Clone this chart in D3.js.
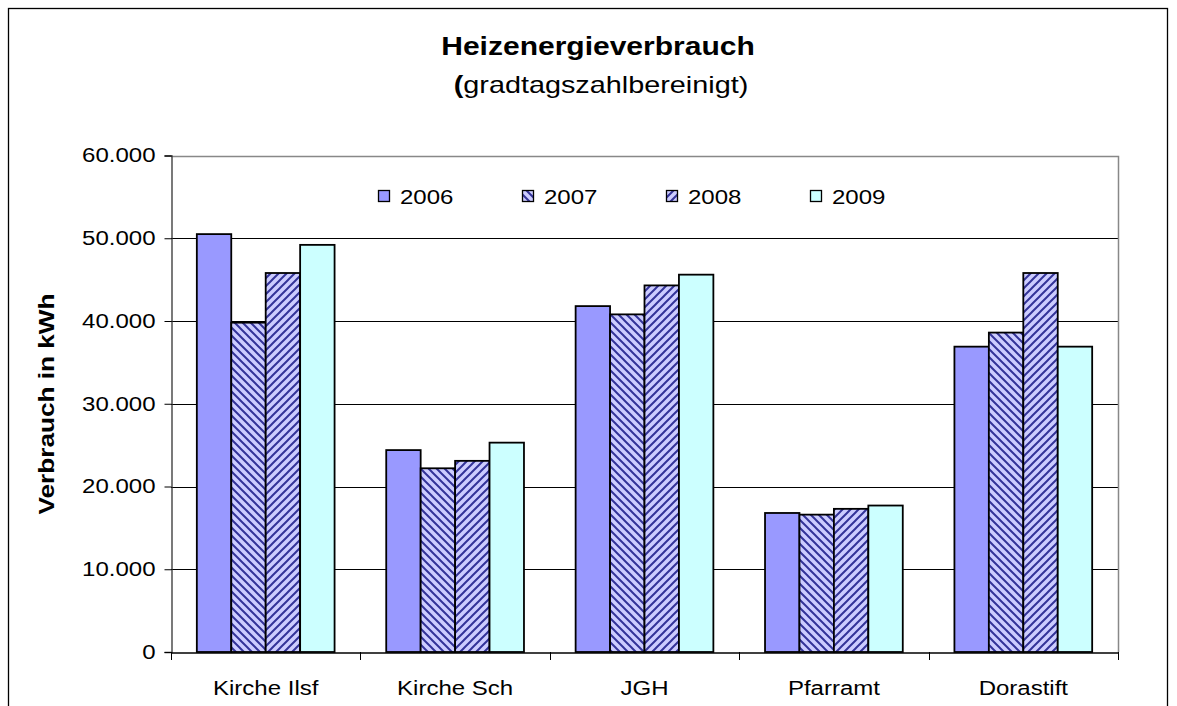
<!DOCTYPE html>
<html><head><meta charset="utf-8">
<script src="https://cdn.jsdelivr.net/npm/d3@7/dist/d3.min.js"></script>
<style>body{margin:0;background:#fff}svg{display:block;font-family:"Liberation Sans",Arial,sans-serif}</style>
</head><body>
<svg id="c" width="1177" height="706"></svg>
<script>
const categories = ["Kirche Ilsf","Kirche Sch","JGH","Pfarramt","Dorastift"];
const years = ["2006","2007","2008","2009"];
const v2006 = [50500, 24400, 41800, 16800, 36900];
const v2007 = [39800, 22200, 40800, 16600, 38600];
const v2008 = [45800, 23100, 44300, 17300, 45800];
const v2009 = [49200, 25300, 45600, 17700, 36900];
const tickValues = [0,10000,20000,30000,40000,50000,60000];
const tickLabels = ["0","10.000","20.000","30.000","40.000","50.000","60.000"];
const title = "Heizenergieverbrauch";
const subtitle = "gradtagszahlbereinigt)";
const yTitle = "Verbrauch in kWh";

const series = [v2006, v2007, v2008, v2009];
const svg = d3.select("#c");
const L = 171, R = 1118, T = 155.5, B = 652;
const FF = "Liberation Sans, Arial, sans-serif";

// widen text horizontally (reference text is horizontally stretched)
function stretch(sel, k){
  sel.each(function(){
    const w = this.getComputedTextLength();
    d3.select(this).attr("textLength", w*k).attr("lengthAdjust","spacingAndGlyphs");
  });
}

const defs = svg.append("defs");
function hatch(id, dir){
  const p = defs.append("pattern").attr("id", id).attr("patternUnits","userSpaceOnUse")
    .attr("width", 8).attr("height", 8);
  p.append("rect").attr("width",8).attr("height",8).attr("fill","#CCCCFF");
  const d = dir === "down" ? "M-2,-2 L10,10 M-2,6 L2,10 M6,-2 L10,2"
                           : "M-2,10 L10,-2 M-2,2 L2,-2 M6,10 L10,6";
  p.append("path").attr("d", d).attr("stroke","#333399").attr("stroke-width",2.0);
}
hatch("h2007","down");
hatch("h2008","up");
const fills = ["#9999FF","url(#h2007)","url(#h2008)","#CCFFFF"];

// outer border
svg.append("rect").attr("x",8.5).attr("y",8.5).attr("width",1159).attr("height",720)
  .attr("fill","none").attr("stroke","#000").attr("stroke-width",1.3);

const x0 = d3.scaleBand().domain(categories).range([L,R]).paddingInner(1.5/5.5).paddingOuter(0.75/5.5);
const x1 = d3.scaleBand().domain(years).range([0, x0.bandwidth()]);
const y = d3.scaleLinear().domain([0,60000]).range([B,T]);

// gridlines
svg.append("g").selectAll("line").data(tickValues.filter(v=>v>0 && v<60000)).join("line")
  .attr("x1",L).attr("x2",R).attr("y1",d=>Math.round(y(d))+0.5).attr("y2",d=>Math.round(y(d))+0.5)
  .attr("stroke","#000").attr("stroke-width",1);
// plot border top/right gray
svg.append("path").attr("d",`M${L},${Math.round(y(60000))+0.5} H${R+0.5} V${B}`)
  .attr("fill","none").attr("stroke","#888").attr("stroke-width",1.5);

// bars
const g = svg.append("g");
categories.forEach((c,i)=>{
  years.forEach((yr,j)=>{
    const v = series[j][i];
    g.append("rect")
      .attr("x", x0(c)+x1(yr)).attr("width", x1.bandwidth())
      .attr("y", y(v)).attr("height", y(0)-y(v))
      .attr("fill", fills[j]).attr("stroke","#000").attr("stroke-width",1.8);
  });
});

// y axis
const yAxis = d3.axisLeft(y).tickValues(tickValues).tickFormat((d,i)=>tickLabels[i]).tickSize(7).tickPadding(9);
const ya = svg.append("g").attr("transform",`translate(${L+0.5},0)`).call(yAxis);
ya.select(".domain").attr("stroke","#333").attr("stroke-width",1.3);
ya.selectAll(".tick line").attr("stroke","#000");
ya.selectAll("text").attr("font-size",20).attr("fill","#000").attr("font-family",FF);
stretch(ya.selectAll("text"), 1.2);

// x axis
const xAxis = d3.axisBottom(x0).tickSize(0).tickPadding(28);
const xa = svg.append("g").attr("transform",`translate(0,${B+0.5})`).call(xAxis);
xa.select(".domain").attr("stroke","#000").attr("stroke-width",1.5);
xa.selectAll("text").attr("font-size",20).attr("fill","#000").attr("font-family",FF);
stretch(xa.selectAll("text"), 1.2);
// category separator ticks
const seps = categories.map(c=>x0(c)-x0.step()*x0.paddingInner()/2).concat([R]);
svg.append("g").selectAll("line").data(seps).join("line")
  .attr("x1",d=>Math.round(d)+0.5).attr("x2",d=>Math.round(d)+0.5).attr("y1",B).attr("y2",B+8)
  .attr("stroke","#000").attr("stroke-width",1);

// titles
const tt = svg.append("text").attr("x",598).attr("y",55).attr("text-anchor","middle")
  .attr("font-size",25).attr("font-weight","bold").text(title);
stretch(tt, 1.2);
const st = svg.append("text").attr("x",601).attr("y",93).attr("text-anchor","middle").attr("font-size",24);
st.append("tspan").attr("font-weight","bold").text("(");
st.append("tspan").text(subtitle);
stretch(st, 1.2);

const yt = svg.append("text").attr("transform","translate(54,404) rotate(-90)").attr("text-anchor","middle")
  .attr("font-size",22).attr("font-weight","bold").text(yTitle);
stretch(yt, 1.19);

// legend
const lg = svg.append("g");
years.forEach((yr,j)=>{
  const lx = 378 + j*144;
  lg.append("rect").attr("x",lx+0.5).attr("y",190.5).attr("width",11).attr("height",11)
    .attr("fill",fills[j]).attr("stroke","#000").attr("stroke-width",1.3);
  const t = lg.append("text").attr("x",lx+22).attr("y",203.5).attr("font-size",20).text(yr);
  stretch(t, 1.2);
});
</script>
</body></html>
